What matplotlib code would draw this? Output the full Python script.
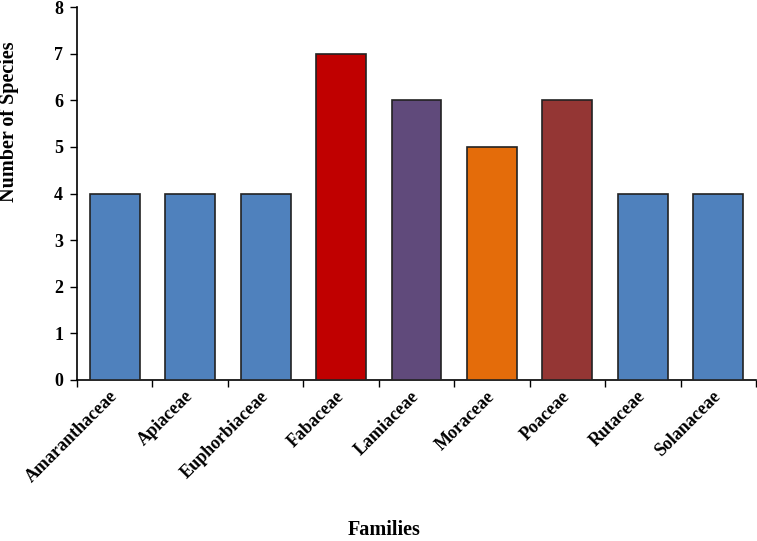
import numpy as np
import matplotlib.pyplot as plt

families = ["Amaranthaceae", "Apiaceae", "Euphorbiaceae", "Fabaceae", "Lamiaceae",
            "Moraceae", "Poaceae", "Rutaceae", "Solanaceae"]
species = [4, 4, 4, 7, 6, 5, 6, 4, 4]
colors = ["#4F81BD", "#4F81BD", "#4F81BD", "#C00000", "#604A7B",
          "#E46C0A", "#943634", "#4F81BD", "#4F81BD"]

plt.rcParams["font.family"] = ["Liberation Serif", "DejaVu Serif"]
plt.rcParams["font.weight"] = "bold"

fig = plt.figure(figsize=(7.57, 5.41), dpi=100)
ax = fig.add_axes([77 / 757, 1 - 380 / 541, 679 / 757, 373 / 541])

x = np.arange(len(families))
ax.bar(x, species, width=0.66, color=colors, edgecolor="#222222", linewidth=1.2, zorder=3)

ax.set_xlim(-0.5, len(families) - 0.5)
ax.set_ylim(0, 8)
ax.set_yticks(range(0, 9))
ax.tick_params(axis="y", labelsize=13, direction="out", length=5, width=1, pad=5)

ax.set_xticks(x)
ax.set_xticklabels(families, rotation=45, ha="right", va="center",
                   rotation_mode="anchor", fontsize=13)
ax.tick_params(axis="x", which="major", length=0, pad=10)
ax.set_xticks(np.arange(-0.5, len(families)), minor=True)
ax.tick_params(axis="x", which="minor", direction="out", length=5, width=1)

for side in ["top", "right"]:
    ax.spines[side].set_visible(False)
for side in ["left", "bottom"]:
    ax.spines[side].set_linewidth(1.2)

# axis titles placed like the original (y title sits high, near the figure edge)
fig.text(9 / 757, 1 - 122 / 541, "Number of Species", rotation=90, ha="center", va="center",
         fontsize=14.5, fontweight="bold")
fig.text(384 / 757, 1 - 530 / 541, "Families", ha="center", va="center",
         fontsize=14.5, fontweight="bold")

fig.savefig("out.png", dpi=100)
